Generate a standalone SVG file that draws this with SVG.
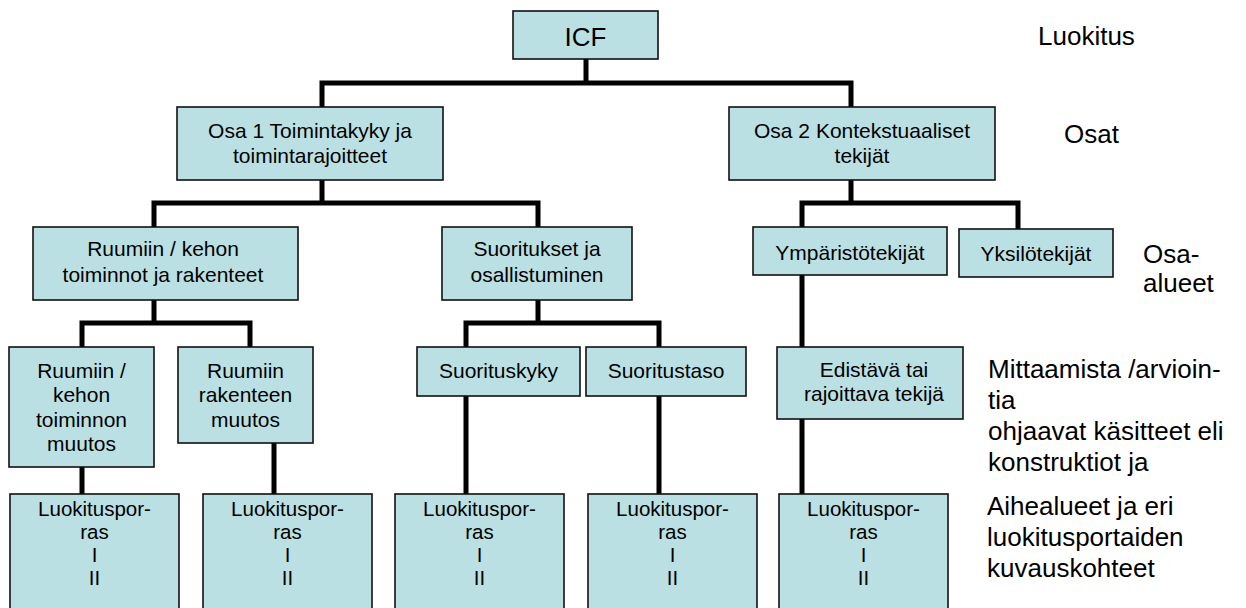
<svg xmlns="http://www.w3.org/2000/svg" width="1246" height="608" viewBox="0 0 1246 608">
<style>
.box{fill:#BBE0E3;stroke:#111;stroke-width:1.6}
.t{font-family:"Liberation Sans",Arial,sans-serif;font-size:21px;fill:#000;text-anchor:middle}
.tb{font-family:"Liberation Sans",Arial,sans-serif;font-size:20.5px;fill:#000;text-anchor:middle}
.lbl{font-family:"Liberation Sans",Arial,sans-serif;font-size:26px;fill:#000}
.conn{fill:none;stroke:#000;stroke-width:5;stroke-linejoin:miter;stroke-linecap:butt}
</style>
<rect width="1246" height="608" fill="#fff"/>
<g id="connectors">
<path class="conn" d="M586,59 V83 M322,107 V83 H851 V107"/>
<path class="conn" d="M322,180 V203 M154,227 V203 H538 V227"/>
<path class="conn" d="M851,180 V203 M802,227 V203 H1018 V229"/>
<path class="conn" d="M154,300 V323 M82,347 V323 H250 V347"/>
<path class="conn" d="M538,300 V323 M466,347 V323 H659 V347"/>
<path class="conn" d="M802,275 V347"/>
<path class="conn" d="M82,467 V494 M274,443 V494 M466,396 V494 M659,396 V494 M802,419 V494"/>
</g>
<g id="icf"><rect class="box" x="513" y="11" width="145" height="48"/><text class="t" x="585.5" y="45.5" style="font-size:26px">ICF</text></g>
<g id="osa1"><rect class="box" x="177" y="107" width="266" height="73"/><text class="t" x="310" y="138">Osa 1 Toimintakyky ja</text><text class="t" x="310" y="163">toimintarajoitteet</text></g>
<g id="osa2"><rect class="box" x="729" y="107" width="266" height="73"/><text class="t" x="862" y="138">Osa 2 Kontekstuaaliset</text><text class="t" x="862" y="163">tekijät</text></g>
<g id="ruumiin"><rect class="box" x="33" y="227" width="265" height="73"/><text class="t" x="163" y="256">Ruumiin / kehon</text><text class="t" x="163" y="282">toiminnot ja rakenteet</text></g>
<g id="suoritukset"><rect class="box" x="442" y="227" width="190" height="73"/><text class="t" x="537" y="256">Suoritukset ja</text><text class="t" x="537" y="282">osallistuminen</text></g>
<g id="ymparisto"><rect class="box" x="753" y="227" width="194" height="48"/><text class="t" x="850" y="260">Ympäristötekijät</text></g>
<g id="yksilo"><rect class="box" x="959" y="229" width="154" height="48"/><text class="t" x="1036" y="261">Yksilötekijät</text></g>
<g id="toiminnon"><rect class="box" x="9" y="347" width="145" height="120"/><text class="t" x="81.5" y="378">Ruumiin /</text><text class="t" x="81.5" y="402">kehon</text><text class="t" x="81.5" y="427">toiminnon</text><text class="t" x="81.5" y="451">muutos</text></g>
<g id="rakenteen"><rect class="box" x="178" y="347" width="135" height="96"/><text class="t" x="245.5" y="378">Ruumiin</text><text class="t" x="245.5" y="402">rakenteen</text><text class="t" x="245.5" y="427">muutos</text></g>
<g id="suorituskyky"><rect class="box" x="417" y="347" width="163" height="49"/><text class="t" x="498.5" y="378">Suorituskyky</text></g>
<g id="suoritustaso"><rect class="box" x="586" y="347" width="160" height="49"/><text class="t" x="666" y="378">Suoritustaso</text></g>
<g id="edistava"><rect class="box" x="777" y="347" width="186" height="72"/><text class="t" x="874" y="377">Edistävä tai</text><text class="t" x="874" y="401">rajoittava tekijä</text></g>
<g id="lp1"><rect class="box" x="10" y="494" width="169" height="130"/><text class="tb" x="94.5" y="516">Luokituspor-</text><text class="tb" x="94.5" y="539">ras</text><text class="tb" x="94.5" y="562">I</text><text class="tb" x="94.5" y="585">II</text></g>
<g id="lp2"><rect class="box" x="203" y="494" width="169" height="130"/><text class="tb" x="287.5" y="516">Luokituspor-</text><text class="tb" x="287.5" y="539">ras</text><text class="tb" x="287.5" y="562">I</text><text class="tb" x="287.5" y="585">II</text></g>
<g id="lp3"><rect class="box" x="395" y="494" width="169" height="130"/><text class="tb" x="479.5" y="516">Luokituspor-</text><text class="tb" x="479.5" y="539">ras</text><text class="tb" x="479.5" y="562">I</text><text class="tb" x="479.5" y="585">II</text></g>
<g id="lp4"><rect class="box" x="588" y="494" width="169" height="130"/><text class="tb" x="672.5" y="516">Luokituspor-</text><text class="tb" x="672.5" y="539">ras</text><text class="tb" x="672.5" y="562">I</text><text class="tb" x="672.5" y="585">II</text></g>
<g id="lp5"><rect class="box" x="779" y="494" width="169" height="130"/><text class="tb" x="863.5" y="516">Luokituspor-</text><text class="tb" x="863.5" y="539">ras</text><text class="tb" x="863.5" y="562">I</text><text class="tb" x="863.5" y="585">II</text></g>
<g id="labels">
<text class="lbl" x="1038" y="45">Luokitus</text>
<text class="lbl" x="1064" y="143">Osat</text>
<text class="lbl" x="1143" y="263">Osa-</text>
<text class="lbl" x="1143" y="292">alueet</text>
<text class="lbl" x="988" y="378">Mittaamista /arvioin-</text>
<text class="lbl" x="988" y="409">tia</text>
<text class="lbl" x="988" y="440">ohjaavat käsitteet eli</text>
<text class="lbl" x="988" y="471">konstruktiot ja</text>
<text class="lbl" x="987" y="515">Aihealueet ja eri</text>
<text class="lbl" x="987" y="546">luokitusportaiden</text>
<text class="lbl" x="987" y="577">kuvauskohteet</text>
</g>
</svg>
